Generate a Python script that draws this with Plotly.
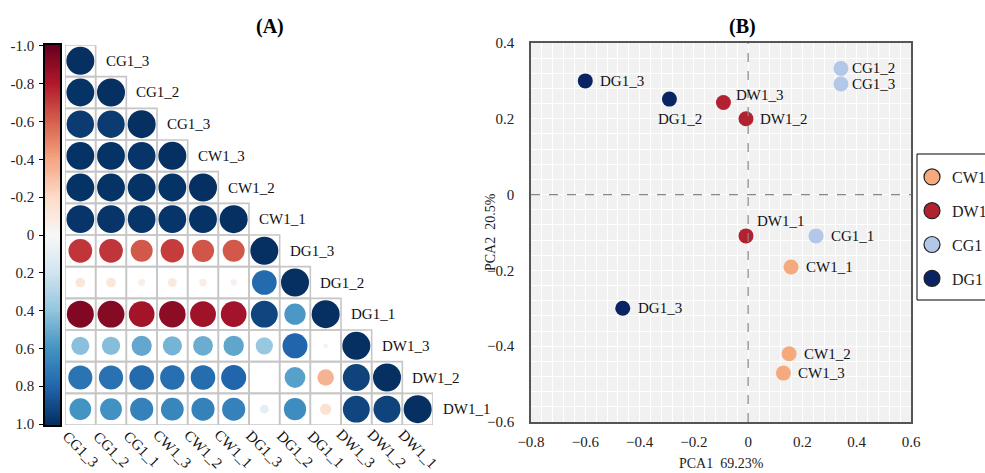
import numpy as np
import plotly.graph_objects as go

# ---------------- data ----------------
samples = ["CG1_3", "CG1_2", "CG1_1", "CW1_3", "CW1_2", "CW1_1",
           "DG1_3", "DG1_2", "DG1_1", "DW1_3", "DW1_2", "DW1_1"]
row_labels = ["CG1_3", "CG1_2", "CG1_3", "CW1_3", "CW1_2", "CW1_1",
              "DG1_3", "DG1_2", "DG1_1", "DW1_3", "DW1_2", "DW1_1"]

# lower-triangle Pearson correlations, row by row
corr_rows = [
    [1.00],
    [0.99, 1.00],
    [0.96, 0.96, 1.00],
    [0.99, 0.99, 0.98, 1.00],
    [0.99, 0.99, 0.99, 0.99, 1.00],
    [0.98, 0.98, 0.98, 0.98, 0.99, 1.00],
    [-0.72, -0.72, -0.62, -0.70, -0.63, -0.62, 1.00],
    [-0.12, -0.12, -0.06, -0.10, -0.07, -0.05, 0.78, 1.00],
    [-0.93, -0.92, -0.84, -0.90, -0.85, -0.84, 0.92, 0.58, 1.00],
    [0.42, 0.43, 0.52, 0.47, 0.50, 0.53, 0.38, 0.80, 0.03, 1.00],
    [0.74, 0.75, 0.78, 0.76, 0.77, 0.80, 0.00, 0.55, -0.35, 0.93, 1.00],
    [0.60, 0.61, 0.68, 0.66, 0.68, 0.68, 0.10, 0.63, -0.16, 0.92, 0.93, 1.00],
]

cbar_ticks = [-1.0, -0.8, -0.6, -0.4, -0.2, 0.0, 0.2, 0.4, 0.6, 0.8, 1.0]
cbar_ticktext = ["-1.0", "-0.8", "-0.6", "-0.4", "-0.2", "0",
                 "0.2", "0.4", "0.6", "0.8", "1.0"]

pca_groups = ["CW1", "DW1", "CG1", "DG1"]
pca_names = ["CW1_1", "CW1_2", "CW1_3",
             "DW1_1", "DW1_2", "DW1_3",
             "CG1_1", "CG1_2", "CG1_3",
             "DG1_2", "DG1_3", "DG1_3"]
pca_group = ["CW1", "CW1", "CW1",
             "DW1", "DW1", "DW1",
             "CG1", "CG1", "CG1",
             "DG1", "DG1", "DG1"]
pca1 = [0.158, 0.151, 0.130,
        -0.008, -0.008, -0.091,
        0.250, 0.342, 0.342,
        -0.290, -0.600, -0.462]
pca2 = [-0.191, -0.420, -0.471,
        -0.109, 0.200, 0.243,
        -0.109, 0.333, 0.292,
        0.252, 0.300, -0.300]

# ---------------- styling ----------------
SERIF = "Liberation Serif"
W, H = 985, 473
RDBU = ["#67001f", "#b2182b", "#d6604d", "#f4a582", "#fddbc7", "#f7f7f7",
        "#d1e5f0", "#92c5de", "#4393c3", "#2166ac", "#053061"]
colorscale = [[k / 10, c] for k, c in enumerate(RDBU)]
group_colors = {"CW1": "#f4aa7c", "DW1": "#b2212f", "CG1": "#b3c7e8", "DG1": "#0a2463"}
# label offsets (px) relative to each point: (dx, dy, anchor)
label_offsets = {0: (13, 0, "left"), 1: (13, 0, "left"), 2: (13, 0, "left"),
                 3: (9, 15, "left"), 4: (12, 0, "left"), 5: (11, 8, "left"),
                 6: (13, 0, "left"), 7: (9, 0, "left"), 8: (9, 0, "left"),
                 9: (11, -20, "center"), 10: (13, 0, "left"), 11: (13, 0, "left")}
MAX_D = 28  # circle diameter at |r| = 1


def px_x(p):
    return p / W


def px_y(p):
    return 1 - p / H


fig = go.Figure()

# ---------------- (A) correlation circles ----------------
cx, cy, cv = [], [], []
for i, row in enumerate(corr_rows):
    for j, v in enumerate(row):
        cx.append(j)
        cy.append(i)
        cv.append(v)
cv = np.array(cv)
fig.add_trace(go.Scatter(
    x=cx, y=cy, mode="markers", xaxis="x", yaxis="y", showlegend=False,
    hoverinfo="skip",
    marker=dict(size=MAX_D * np.sqrt(np.abs(cv)), color=cv, colorscale=colorscale,
                cmin=-1, cmax=1, line=dict(width=0), opacity=1),
))

shapes = []
for i, row in enumerate(corr_rows):
    for j in range(len(row)):
        shapes.append(dict(type="rect", xref="x", yref="y", layer="below",
                           x0=j - 0.5, x1=j + 0.5, y0=i - 0.5, y1=i + 0.5,
                           line=dict(color="#c6c6c6", width=1.6)))

lab_font = dict(family=SERIF, size=15, color="#111")
annotations = []
# row labels beside the diagonal
for i, lab in enumerate(row_labels):
    annotations.append(dict(x=i + 0.5, y=i, xref="x", yref="y", text=lab,
                            showarrow=False, xanchor="left", yanchor="middle",
                            xshift=8, font=lab_font))
# slanted column labels under the grid
n = len(samples)
for j, lab in enumerate(samples):
    annotations.append(dict(x=j, y=n - 0.5, xref="x", yref="y", text=lab,
                            showarrow=False, xanchor="center", yanchor="middle",
                            textangle=45, yshift=-24, font=lab_font))

# colour legend strip
levels = np.linspace(-1, 1, 201)
fig.add_trace(go.Heatmap(
    z=[[v] for v in levels], y=levels, x=[0], xaxis="x2", yaxis="y2",
    colorscale=colorscale, zmin=-1, zmax=1, showscale=False, hoverinfo="skip",
))

# ---------------- (B) PCA scatter ----------------
for g in pca_groups:
    idx = [k for k, gg in enumerate(pca_group) if gg == g]
    fig.add_trace(go.Scatter(
        x=[pca1[k] for k in idx], y=[pca2[k] for k in idx],
        mode="markers", xaxis="x3", yaxis="y3", showlegend=False,
        marker=dict(size=15, color=group_colors[g], line=dict(width=0)),
        name=g,
    ))
    # legend entry with outlined symbol
    fig.add_trace(go.Scatter(
        x=[None], y=[None], mode="markers", xaxis="x3", yaxis="y3",
        name=g, legendgroup=g, showlegend=True,
        marker=dict(size=16, color=group_colors[g], line=dict(width=1.2, color="#222")),
    ))

for k, name in enumerate(pca_names):
    dx, dy, anc = label_offsets[k]
    annotations.append(dict(x=pca1[k], y=pca2[k], xref="x3", yref="y3", text=name,
                            showarrow=False, xanchor=anc, yanchor="middle",
                            xshift=dx, yshift=dy, font=lab_font))

# PCA panel background and dashed origin lines
shapes.append(dict(type="rect", xref="x3 domain", yref="y3 domain", layer="below",
                   x0=0, x1=1, y0=0, y1=1, fillcolor="#f1f1f1", line=dict(width=0)))
shapes.append(dict(type="line", xref="x3", yref="y3 domain", x0=0, x1=0, y0=0, y1=1,
                   line=dict(color="#888", width=1.2, dash="dash")))
shapes.append(dict(type="line", xref="x3 domain", yref="y3", x0=0, x1=1, y0=0, y1=0,
                   line=dict(color="#888", width=1.2, dash="dash")))
# legend frame
shapes.append(dict(type="rect", xref="paper", yref="paper",
                   x0=px_x(917), x1=px_x(995), y0=px_y(300), y1=px_y(154),
                   line=dict(color="#000", width=1), fillcolor="rgba(0,0,0,0)"))

# panel titles and PCA axis titles
annotations += [
    dict(x=px_x(270), y=px_y(27), xref="paper", yref="paper", text="<b>(A)</b>",
         xanchor="center", yanchor="middle",
         showarrow=False, font=dict(family=SERIF, size=20, color="#000")),
    dict(x=px_x(742), y=px_y(27), xref="paper", yref="paper", text="<b>(B)</b>",
         xanchor="center", yanchor="middle",
         showarrow=False, font=dict(family=SERIF, size=20, color="#000")),
    dict(x=px_x(721), y=px_y(463), xref="paper", yref="paper", text="PCA1  69.23%",
         xanchor="center", yanchor="middle",
         showarrow=False, font=dict(family=SERIF, size=14, color="#222")),
    dict(x=px_x(490), y=px_y(232), xref="paper", yref="paper", text="PCA2  20.5%",
         xanchor="center", yanchor="middle",
         textangle=-90, showarrow=False, font=dict(family=SERIF, size=14, color="#222")),
]

tickfont = dict(family=SERIF, size=15, color="#222")

fig.update_layout(
    width=W, height=H,
    margin=dict(l=0, r=0, t=0, b=0, autoexpand=False),
    paper_bgcolor="white", plot_bgcolor="white",
    shapes=shapes, annotations=annotations,
    xaxis=dict(domain=[px_x(65), px_x(433)], range=[-0.5, 11.5], showgrid=False,
               zeroline=False, showticklabels=False, ticks="", fixedrange=True),
    yaxis=dict(domain=[px_y(425), px_y(45)], range=[11.5, -0.5], showgrid=False,
               zeroline=False, showticklabels=False, ticks="", fixedrange=True),
    xaxis2=dict(domain=[px_x(45), px_x(60)], range=[-0.5, 0.5], showgrid=False,
                zeroline=False, showticklabels=False, ticks="", showline=True,
                mirror=True, linecolor="#000", linewidth=1.5, anchor="y2"),
    yaxis2=dict(domain=[px_y(425), px_y(45)], range=[1.005, -1.005], showgrid=False,
                zeroline=False, tickmode="array", tickvals=cbar_ticks,
                ticktext=cbar_ticktext, ticks="outside", ticklen=4, tickcolor="#000",
                tickfont=tickfont, showline=True, mirror=True, linecolor="#000",
                linewidth=1.5, anchor="x2", side="left", ticklabelstandoff=2),
    xaxis3=dict(domain=[px_x(531), px_x(911)], range=[-0.8, 0.6], anchor="y3",
                tickmode="linear", tick0=-0.8, dtick=0.2, showgrid=True,
                gridcolor="white", gridwidth=1, zeroline=False, ticks="",
                tickfont=tickfont, ticklabelstandoff=5, showline=True, mirror=True,
                linecolor="#555", linewidth=1.5,
                minor=dict(dtick=0.04, showgrid=True, gridcolor="white", gridwidth=1)),
    yaxis3=dict(domain=[px_y(422), px_y(43)], range=[-0.6, 0.4], anchor="x3",
                tickmode="linear", tick0=-0.6, dtick=0.2, showgrid=True,
                gridcolor="white", gridwidth=1, zeroline=False, ticks="",
                tickfont=tickfont, ticklabelstandoff=12, showline=True, mirror=True,
                linecolor="#555", linewidth=1.5,
                minor=dict(dtick=0.04, showgrid=True, gridcolor="white", gridwidth=1)),
    legend=dict(x=px_x(912), y=px_y(160), xanchor="left", yanchor="top",
                bgcolor="rgba(0,0,0,0)", borderwidth=0,
                font=dict(family=SERIF, size=16, color="#222"),
                tracegroupgap=10, itemsizing="trace"),
)

fig.write_html("out.html")
